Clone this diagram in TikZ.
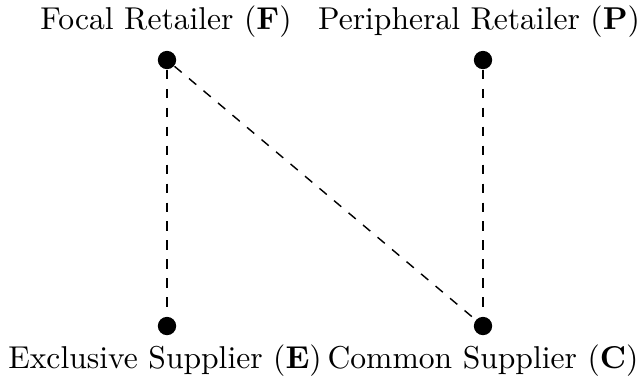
\documentclass[tikz,border=0pt]{standalone}
\begin{document}
\begin{tikzpicture}[x=0.3165pt,y=-0.3165pt,
  dot/.style={circle,fill=black,inner sep=0pt,minimum size=5.8pt},
  lab/.style={anchor=base,inner sep=0pt},
  link/.style={dashed,line width=0.45pt}]
\useasboundingbox (0,0) rectangle (642,381);
\node[dot] (F) at (167,60) {};
\node[dot] (P) at (483,60) {};
\node[dot] (E) at (167,326) {};
\node[dot] (C) at (483,326) {};
\node[lab] (Fl) at (166,29) {Focal Retailer (\textbf{F})};
\node[lab] (Pl) at (479,29) {Peripheral Retailer (\textbf{P})};
\node[lab] (El) at (165,368) {Exclusive Supplier (\textbf{E})};
\node[lab] (Cl) at (483,368) {Common Supplier (\textbf{C})};
\draw[link] (F) -- (E);
\draw[link] (F) -- (C);
\draw[link] (P) -- (C);
\end{tikzpicture}
\end{document}
